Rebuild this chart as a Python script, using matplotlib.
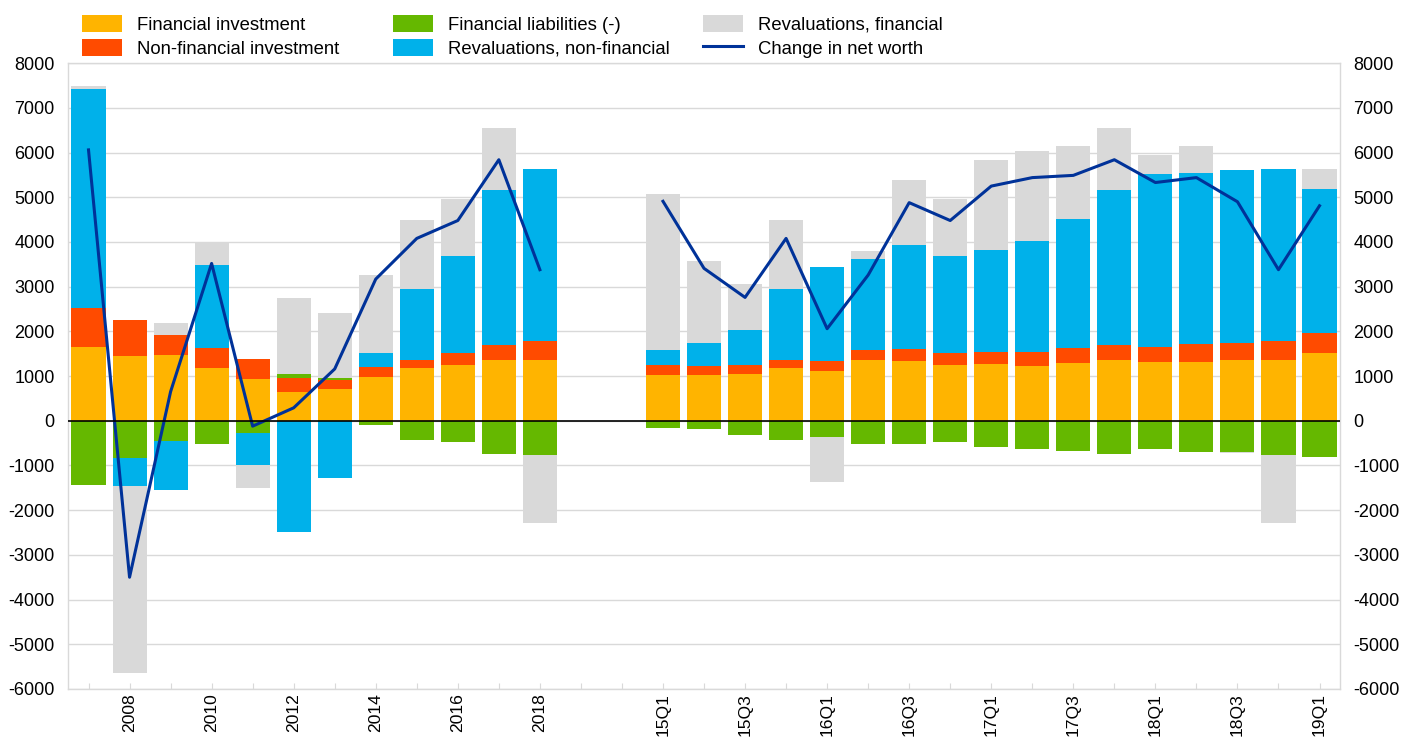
# Household net worth decomposition - stacked bars with net worth line

import numpy as np
import matplotlib.pyplot as plt
from matplotlib.patches import Patch
from matplotlib.lines import Line2D

plt.rcParams['font.family'] = ['Liberation Sans', 'DejaVu Sans']
plt.rcParams['axes.unicode_minus'] = False

# --------------------------------------------------
# Data (EUR billions)
# --------------------------------------------------
years = ['2007', '2008', '2009', '2010', '2011', '2012',
         '2013', '2014', '2015', '2016', '2017', '2018']
quarters = ['15Q1', '15Q2', '15Q3', '15Q4', '16Q1', '16Q2', '16Q3', '16Q4',
            '17Q1', '17Q2', '17Q3', '17Q4', '18Q1', '18Q2', '18Q3', '18Q4',
            '19Q1']

fin_invest = [1650, 1460, 1470, 1180, 940, 650, 710, 990, 1180, 1250, 1350, 1350,
              1030, 1020, 1050, 1180, 1120, 1350, 1340, 1250,
              1260, 1230, 1300, 1350, 1320, 1320, 1350, 1350, 1520]
nonfin_invest = [870, 790, 460, 440, 440, 310, 210, 220, 180, 270, 350, 440,
                 210, 200, 190, 180, 220, 240, 270, 270,
                 270, 300, 330, 350, 340, 390, 390, 440, 440]
fin_liab = [-1430, -830, -450, -510, -270, 80, 40, -90, -440, -480, -740, -770,
            -160, -180, -310, -440, -360, -520, -520, -480,
            -590, -620, -680, -740, -630, -690, -690, -770, -820]
reval_nonfin = [4900, -640, -1090, 1870, -730, -2480, -1270, 310, 1590, 2160, 3470, 3850,
                350, 530, 800, 1590, 2100, 2040, 2330, 2160,
                2300, 2500, 2890, 3470, 3850, 3840, 3880, 3850, 3220]
reval_fin = [70, -4170, 260, 480, -510, 1710, 1450, 1740, 1540, 1290, 1380, -1510,
             3490, 1830, 1010, 1540, -1020, 160, 1440, 1290,
             2010, 2000, 1630, 1380, 440, 590, -30, -1510, 460]
net_worth = [6060, -3500, 650, 3520, -120, 290, 1160, 3170, 4080, 4480, 5840, 3380,
             4910, 3410, 2760, 4080, 2060, 3260, 4880, 4480,
             5250, 5440, 5490, 5840, 5330, 5440, 4900, 3380, 4810]

series_names = ['Financial investment', 'Non-financial investment',
                'Financial liabilities (-)', 'Revaluations, non-financial',
                'Revaluations, financial']
series_colors = ['#FFB400', '#FF4B00', '#65B800', '#00B1EA', '#D9D9D9']
line_color = '#003299'

# --------------------------------------------------
# Positions: annual block, two empty slots, quarterly block
# --------------------------------------------------
gap = 2
x_years = np.arange(len(years))
x_quarters = np.arange(len(quarters)) + len(years) + gap
x_all = np.concatenate([x_years, x_quarters])
n_slots = len(years) + gap + len(quarters)

fig = plt.figure(figsize=(14.02, 7.38), dpi=100)
ax = fig.add_axes([0.0485, 0.0664, 0.9073, 0.848])

# stacked bars, positives up and negatives down
pos_base = np.zeros(len(x_all))
neg_base = np.zeros(len(x_all))
for values, color in zip([fin_invest, nonfin_invest, fin_liab, reval_nonfin, reval_fin],
                         series_colors):
    v = np.array(values, dtype=float)
    bottom = np.where(v >= 0, pos_base, neg_base)
    ax.bar(x_all, v, bottom=bottom, width=0.83, color=color, linewidth=0, zorder=2)
    pos_base = pos_base + np.where(v >= 0, v, 0)
    neg_base = neg_base + np.where(v < 0, v, 0)

# net worth line, broken between the two blocks
nw = np.array(net_worth, dtype=float)
ax.plot(x_years, nw[:len(years)], color=line_color, linewidth=2.2, zorder=3)
ax.plot(x_quarters, nw[len(years):], color=line_color, linewidth=2.2, zorder=3)

ax.axhline(0, color='black', linewidth=1.2, zorder=4)

# --------------------------------------------------
# Axes styling
# --------------------------------------------------
ax.set_xlim(-0.5, n_slots - 0.5)
ax.set_ylim(-6000, 8000)
ax.set_yticks(np.arange(-6000, 8001, 1000))
ax.grid(axis='y', color='#D9D9D9', linewidth=1, zorder=0)
ax.set_axisbelow(True)
for s in ax.spines.values():
    s.set_color('#D9D9D9')
    s.set_linewidth(1)

# label every second slot: 2008, 2010, ... and 15Q1, 15Q3, ...
slot_labels = [''] * n_slots
for xpos, name in zip(x_all, years + quarters):
    if xpos < len(years):
        if xpos % 2 == 1:
            slot_labels[xpos] = name
    elif (xpos - len(years) - gap) % 2 == 0:
        slot_labels[xpos] = name
ax.set_xticks(np.arange(n_slots))
ax.set_xticklabels(slot_labels, rotation=90, fontsize=12.6)
ax.tick_params(axis='x', direction='in', length=4, color='#D9D9D9', pad=3)
ax.tick_params(axis='y', left=False, right=False, labelleft=True, labelright=True,
               labelsize=13, pad=6)

# --------------------------------------------------
# Legend: three fixed-width columns
# --------------------------------------------------
handles = [Patch(facecolor=c, edgecolor='none') for c in series_colors]
handles.append(Line2D([0], [0], color=line_color, linewidth=2.2))
labels = series_names + ['Change in net worth']
col_x = [82 / 1402, 393 / 1402, 703 / 1402]
for k in range(3):
    fig.legend(handles[2 * k:2 * k + 2], labels[2 * k:2 * k + 2],
               loc='upper left', bbox_to_anchor=(col_x[k], 1 - 15 / 738),
               frameon=False, fontsize=13.3, borderpad=0, borderaxespad=0,
               handlelength=2.15, handleheight=1.0, handletextpad=0.85,
               labelspacing=0.3)

fig.savefig('out.png', dpi=100)
